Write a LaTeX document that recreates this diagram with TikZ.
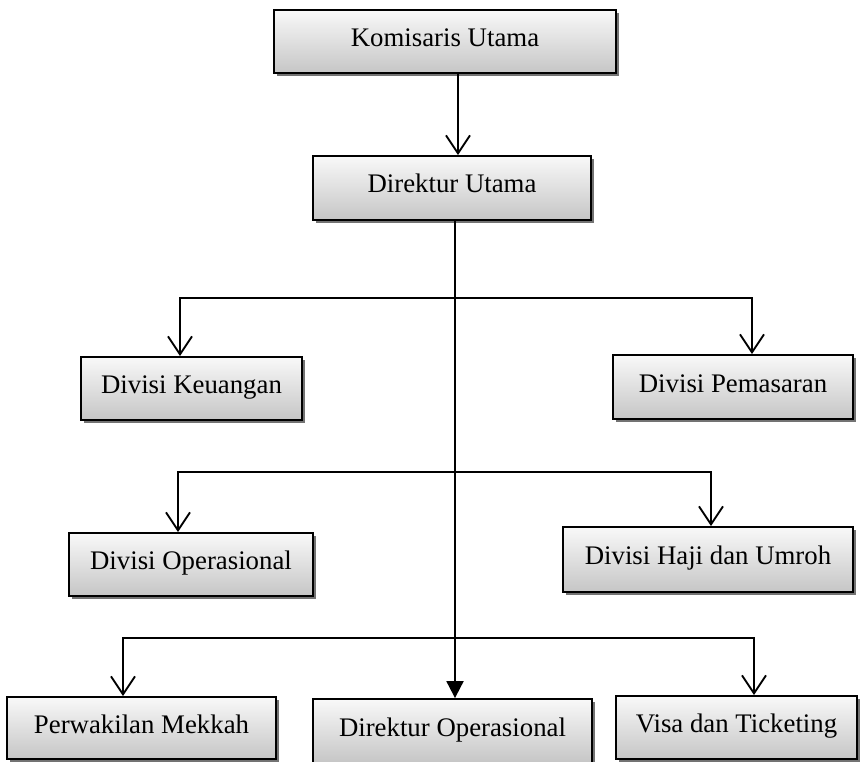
\documentclass[tikz,border=0pt]{standalone}
\usepackage{fontspec}
\setmainfont{Liberation Serif}
\usetikzlibrary{arrows.meta,shadows}
\begin{document}
\begin{tikzpicture}[x=1pt,y=-1pt,
  box/.style={draw=black, line width=1.8pt, top color=gray!5, bottom color=gray!45,
    inner sep=0pt, text height=18pt, text depth=8pt,
    font=\fontsize{26.8}{30}\selectfont,
    drop shadow={shadow xshift=3pt, shadow yshift=-3pt, fill=black!55, opacity=1}},
  conn/.style={line width=1.9pt},
  barb/.style={-{Straight Barb[length=18pt,width=24pt]}},
  dbarb/.style={{Straight Barb[length=18pt,width=24pt]}-{Straight Barb[length=18pt,width=24pt]}}]
\useasboundingbox (0,0) rectangle (862,762);
\node[box, minimum width=342pt, minimum height=63pt] (kom) at (445,41.5) {Komisaris Utama};
\node[box, minimum width=278pt, minimum height=64pt] (dir) at (452,188) {Direktur Utama};
\node[box, minimum width=221pt, minimum height=63pt] (keu) at (191.5,388.5) {Divisi Keuangan};
\node[box, minimum width=240pt, minimum height=64pt] (pem) at (733,387) {Divisi Pemasaran};
\node[box, minimum width=244pt, minimum height=63pt] (ops) at (191,564.5) {Divisi Operasional};
\node[box, minimum width=290pt, minimum height=65pt] (haji) at (708,559.5) {Divisi Haji dan Umroh};
\node[box, minimum width=269pt, minimum height=62pt] (perw) at (141.5,728) {Perwakilan Mekkah};
\node[box, minimum width=279pt, minimum height=64pt] (dirop) at (452.5,731) {Direktur Operasional};
\node[box, minimum width=241pt, minimum height=63pt] (visa) at (736.5,727.5) {Visa dan Ticketing};
% connectors
\coordinate (ka) at (458,0);
\draw[conn,barb] (kom.south -| ka) -- (dir.north -| ka);
\coordinate (tr) at (455,0);
\draw[conn,-{Triangle[length=17pt,width=17pt]}] (dir.south -| tr) -- (dirop.north -| tr);
\coordinate (b1l) at (180,298);
\coordinate (b1r) at (752,298);
\draw[conn,dbarb] (keu.north -| b1l) -- (b1l) -- (b1r) -- (pem.north -| b1r);
\coordinate (b2l) at (178,472);
\coordinate (b2r) at (711,472);
\draw[conn,dbarb] (ops.north -| b2l) -- (b2l) -- (b2r) -- (haji.north -| b2r);
\coordinate (b3l) at (123,638);
\coordinate (b3r) at (754,638);
\draw[conn,dbarb] (perw.north -| b3l) -- (b3l) -- (b3r) -- (visa.north -| b3r);
\end{tikzpicture}
\end{document}
